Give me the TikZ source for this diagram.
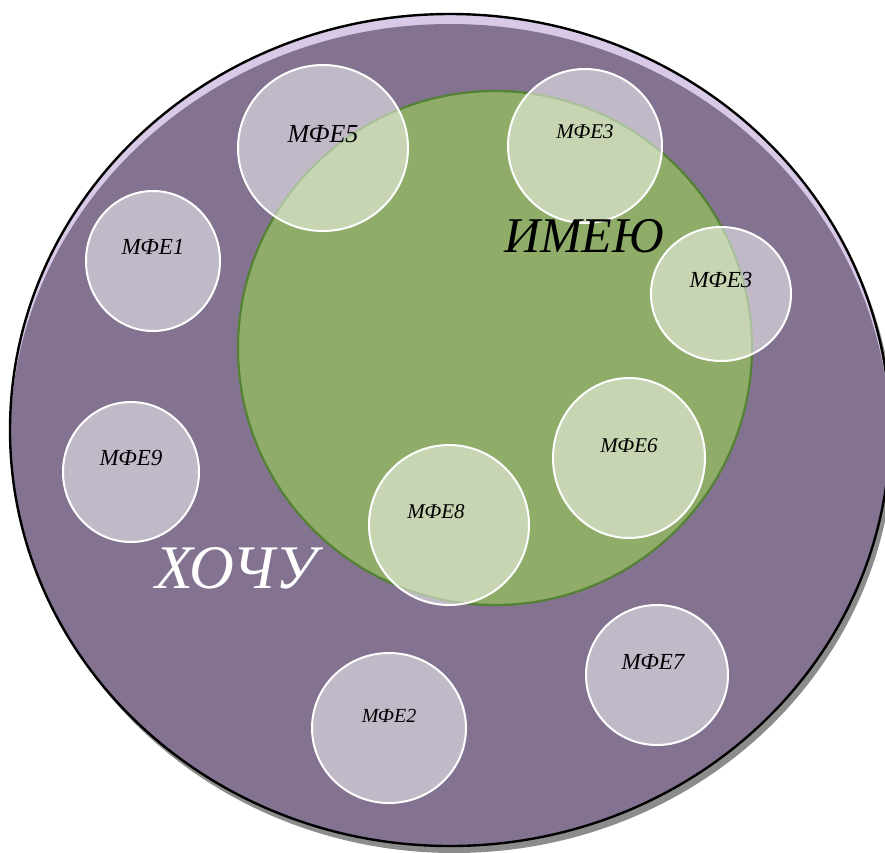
\documentclass[tikz,border=0pt]{standalone}
\usepackage{fontspec}
\setmainfont{Liberation Serif}
\usetikzlibrary{shapes.geometric}
\definecolor{purp}{HTML}{837391}
\definecolor{lav}{HTML}{D8C9E6}
\definecolor{grn}{HTML}{8FAC68}
\definecolor{grnb}{HTML}{548235}
\definecolor{shad}{HTML}{8C8C8C}
\begin{document}
\begin{tikzpicture}[x=1pt,y=-1pt,
  bubble/.style={ellipse, draw=white, line width=2pt, fill=white, fill opacity=0.5, draw opacity=1, inner sep=0pt},
  lab/.style={font=\itshape\fontsize{#1}{#1}\selectfont, inner sep=0pt, text=black}]
\useasboundingbox (0,0) rectangle (885,852);
\clip (0,0) rectangle (885,852);
\fill[shad] (454,437) ellipse [x radius=440, y radius=416];
\node[ellipse, minimum width=880pt, minimum height=832pt, inner sep=0pt, fill=lav, draw=black, line width=2.4pt,
  path picture={\fill[purp] ([yshift=-10pt]path picture bounding box.center) ellipse [x radius=440pt, y radius=416pt];}] (want) at (450,430) {};
\node[circle, minimum size=514pt, inner sep=0pt, fill=grn, draw=grnb, line width=2.2pt] (have) at (495,348) {};
\node[bubble, minimum width=170pt, minimum height=166pt] (b5) at (323,148) {};
\node[bubble, minimum width=154pt, minimum height=154pt] (b3a) at (585,146) {};
\node[bubble, minimum width=134pt, minimum height=140pt] (b1) at (153,261) {};
\node[bubble, minimum width=140pt, minimum height=134pt] (b3b) at (721,294) {};
\node[bubble, minimum width=136pt, minimum height=140pt] (b9) at (131,472) {};
\node[bubble, minimum width=152pt, minimum height=160pt] (b6) at (629,458) {};
\node[bubble, minimum width=160pt, minimum height=160pt] (b8) at (449,525) {};
\node[bubble, minimum width=142pt, minimum height=140pt] (b7) at (657,675) {};
\node[bubble, minimum width=154pt, minimum height=150pt] (b2) at (389,728) {};
\node[lab=26] (t5) at (323,134) {МФЕ5};
\node[lab=21] (t3a) at (585,132) {МФЕ3};
\node[lab=23] (t1) at (153,247) {МФЕ1};
\node[lab=23] (t3b) at (721,280) {МФЕ3};
\node[lab=23] (t9) at (131,458) {МФЕ9};
\node[lab=21] (t6) at (629,446) {МФЕ6};
\node[lab=21] (t8) at (436,512) {МФЕ8};
\node[lab=23] (t7) at (653,662) {МФЕ7};
\node[lab=20] (t2) at (389,716) {МФЕ2};
\node[lab=50] (tHave) at (584,236) {ИМЕЮ};
\node[lab=62, text=white] (tWant) at (236,568) {ХОЧУ};
\end{tikzpicture}
\end{document}
